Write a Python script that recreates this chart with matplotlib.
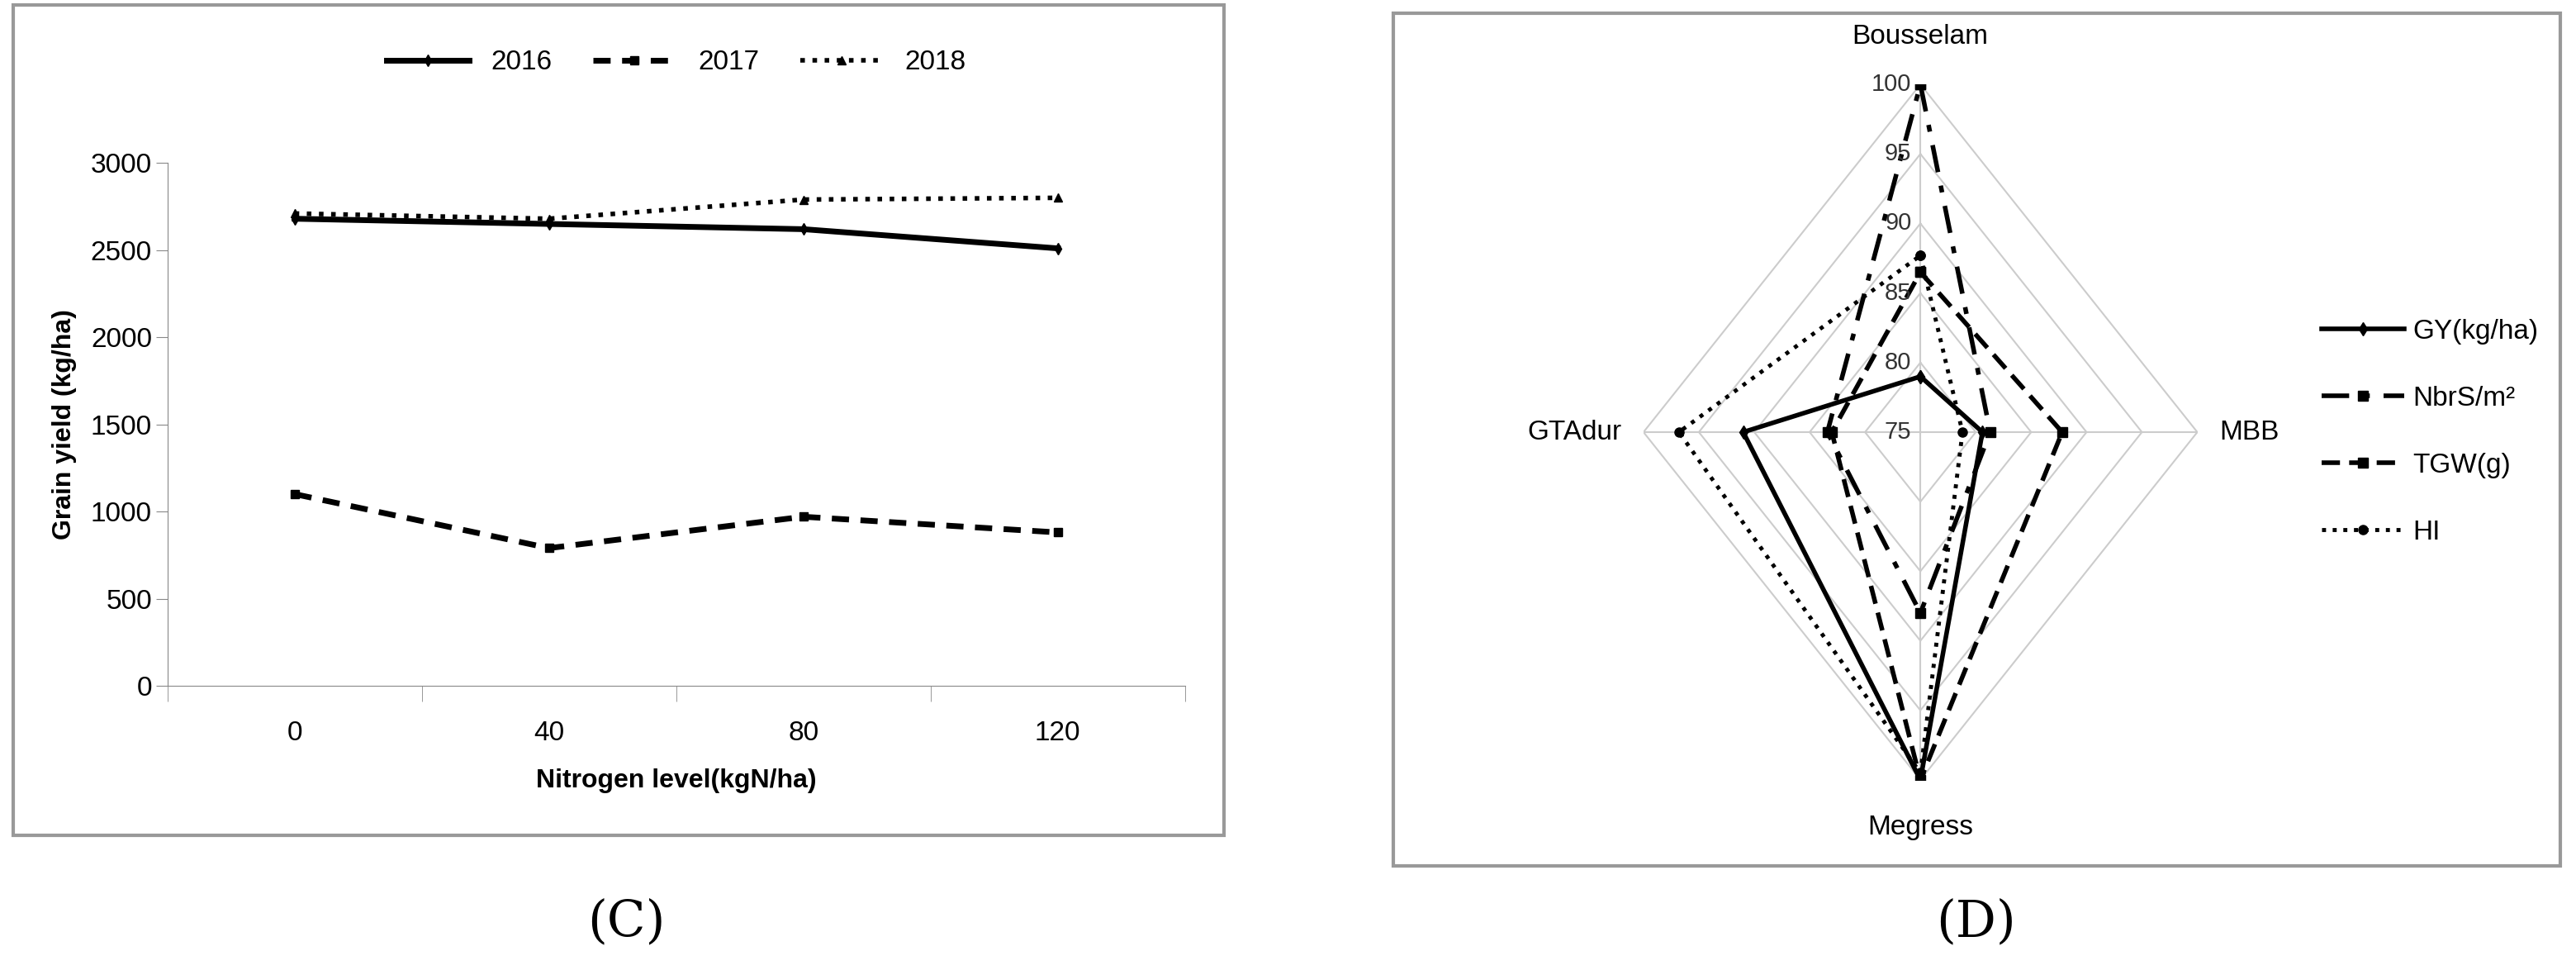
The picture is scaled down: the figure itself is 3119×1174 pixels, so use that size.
import numpy as np
import matplotlib.pyplot as plt
from matplotlib.patches import Rectangle

plt.rcParams['font.family'] = ['Liberation Sans', 'DejaVu Sans']

# panel C data
n_levels = ['0', '40', '80', '120']
gy_2016 = [2680, 2650, 2620, 2510]
gy_2017 = [1100, 790, 970, 880]
gy_2018 = [2710, 2680, 2790, 2800]

# panel D data (Bousselam, MBB, Megress, GTAdur)
sites = ['Bousselam', 'MBB', 'Megress', 'GTAdur']
gy = [79, 80.6, 100, 91]
nbrs = [100, 81.3, 88, 83.4]
tgw = [86.5, 87.8, 100, 83]
hi = [87.7, 78.8, 99.5, 96.8]
rings = [75, 80, 85, 90, 95, 100]

fig = plt.figure(figsize=(31.19, 11.74), dpi=100)
for x0, y0, w, h in [(16, 6, 1466, 1005), (1687, 16, 1413, 1032)]:
    fig.patches.append(Rectangle((x0 / 3119, 1 - (y0 + h) / 1174), w / 3119, h / 1174,
                                 transform=fig.transFigure, fill=False, ec='#999999', lw=3))

# ---- panel C
ax = fig.add_axes([0.065, 0.293, 0.395, 0.539])
xs = np.arange(len(n_levels))
ax.plot(xs, gy_2016, 'k-', lw=5, marker='d', ms=7, label='2016')
ax.plot(xs, gy_2017, 'k--', lw=5, dashes=(3, 2), marker='s', ms=7, label='2017')
ax.plot(xs, gy_2018, 'k:', lw=4, marker='^', ms=7, label='2018')
ax.set_xlim(-0.5, 3.5)
ax.set_ylim(0, 3000)
ax.set_yticks(range(0, 3001, 500))
ax.set_xticks(xs, n_levels)
ax.set_xticks(np.arange(-0.5, 3.6, 1), minor=True)
ax.tick_params(axis='x', which='major', length=0, pad=30, labelsize=24)
ax.tick_params(axis='x', which='minor', length=14, color='#888888')
ax.tick_params(axis='y', labelsize=24, length=10, color='#888888')
for s in ['top', 'right']:
    ax.spines[s].set_visible(False)
ax.spines['left'].set_color('#888888')
ax.spines['bottom'].set_color('#888888')
ax.set_ylabel('Grain yield (kg/ha)', fontsize=23, fontweight='bold', labelpad=12)
ax.set_xlabel('Nitrogen level(kgN/ha)', fontsize=23, fontweight='bold', labelpad=20)
ax.legend(loc='lower center', bbox_to_anchor=(0.5, 1.12), ncol=3, frameon=False,
          fontsize=24, handlelength=3, columnspacing=1.5)

# ---- panel D
rx = fig.add_axes([0.638, 0.196, 0.215, 0.717])
ang = np.array([0, np.pi / 2, np.pi, 3 * np.pi / 2])

def pts(vals):
    r = np.array(vals) - 75
    x = r * np.sin(ang)
    y = r * np.cos(ang)
    return np.append(x, x[0]), np.append(y, y[0])

for rv in rings[1:]:
    x, y = pts([rv] * 4)
    rx.plot(x, y, color='#cccccc', lw=1.5, zorder=0)
for a in ang:
    rx.plot([0, 25 * np.sin(a)], [0, 25 * np.cos(a)], color='#cccccc', lw=1.5, zorder=0)
for rv in rings:
    rx.text(-0.8, rv - 75, str(rv), ha='right', va='center', fontsize=21, color='#333333')

styles = [(gy, 'GY(kg/ha)', '-', None, 'd', 4),
          (nbrs, 'NbrS/m²', '-.', (6, 3, 1.5, 3), 's', 4),
          (tgw, 'TGW(g)', '--', (4, 2), 's', 4),
          (hi, 'HI', ':', None, 'o', 3.5)]
for vals, lab, ls, dsh, mk, lw in styles:
    x, y = pts(vals)
    line, = rx.plot(x, y, color='k', ls=ls, lw=lw, marker=mk, ms=8, label=lab)
    if dsh:
        line.set_dashes(dsh)
rx.set_xlim(-25, 25)
rx.set_ylim(-25, 25)
rx.axis('off')
rx.text(0, 27.5, 'Bousselam', ha='center', va='bottom', fontsize=24)
rx.text(0, -27.5, 'Megress', ha='center', va='top', fontsize=24)
rx.text(27, 0, 'MBB', ha='left', va='center', fontsize=24)
rx.text(-27, 0, 'GTAdur', ha='right', va='center', fontsize=24)
rx.legend(loc='center left', bbox_to_anchor=(1.18, 0.5), frameon=False, fontsize=24,
          handlelength=3, handletextpad=0.3, labelspacing=1.5)

fig.text(0.243, 0.035, '(C)', ha='center', fontsize=44, family='DejaVu Serif')
fig.text(0.767, 0.035, '(D)', ha='center', fontsize=44, family='DejaVu Serif')
fig.savefig('out.png', dpi=100)
